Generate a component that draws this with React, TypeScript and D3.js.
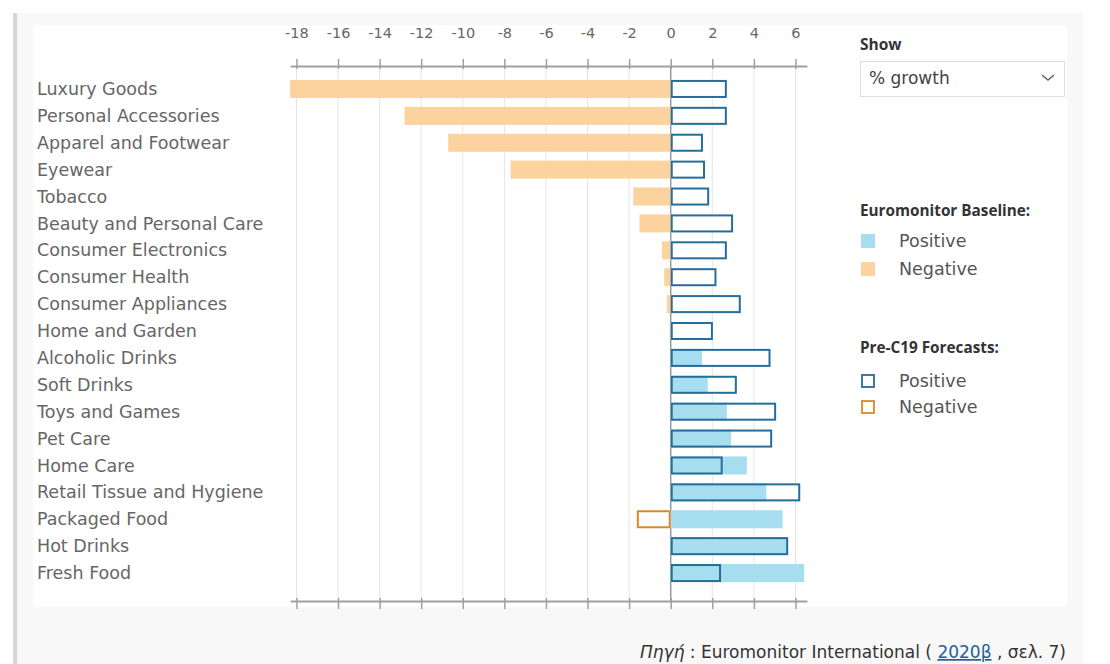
import { useEffect, useRef } from 'react';
import * as d3 from 'd3';

const categories = [
  'Luxury Goods',
  'Personal Accessories',
  'Apparel and Footwear',
  'Eyewear',
  'Tobacco',
  'Beauty and Personal Care',
  'Consumer Electronics',
  'Consumer Health',
  'Consumer Appliances',
  'Home and Garden',
  'Alcoholic Drinks',
  'Soft Drinks',
  'Toys and Games',
  'Pet Care',
  'Home Care',
  'Retail Tissue and Hygiene',
  'Packaged Food',
  'Hot Drinks',
  'Fresh Food',
];

// Euromonitor baseline (% growth)
const baseline = [-18.3, -12.8, -10.7, -7.7, -1.8, -1.5, -0.42, -0.31, -0.19, -0.05, 1.5, 1.78, 2.7, 2.9, 3.66, 4.6, 5.38, 5.6, 6.42];
// Pre-C19 forecasts (% growth)
const preC19 = [2.7, 2.7, 1.55, 1.65, 1.85, 3.0, 2.7, 2.2, 3.37, 2.03, 4.8, 3.18, 5.07, 4.88, 2.5, 6.23, -1.63, 5.65, 2.42];

const tickLabels = [-18, -16, -14, -12, -10, -8, -6, -4, -2, 0, 2, 4, 6];

const FONT = '"Open Sans", "DejaVu Sans", sans-serif';
const WIDE = '"DejaVu Sans", sans-serif';
const POS_FILL = '#a6ddef';
const NEG_FILL = '#fcd29e';
const POS_STROKE = '#266d9a';
const NEG_STROKE = '#d88a2c';

export default function App() {
  const svgRef = useRef<SVGSVGElement>(null);
  const width = 1110;
  const height = 664;

  useEffect(() => {
    if (!svgRef.current) return;
    const svg = d3.select(svgRef.current);
    svg.selectAll('*').remove();

    // page background panel + white card
    svg.append('rect').attr('x', 0).attr('y', 0).attr('width', width).attr('height', height).attr('fill', '#ffffff');
    svg.append('rect').attr('x', 17).attr('y', 13).attr('width', 1066).attr('height', height - 13).attr('fill', '#f8f8f8');
    svg.append('rect').attr('x', 13).attr('y', 13).attr('width', 4).attr('height', height - 13).attr('fill', '#d6d6d6');
    svg.append('rect').attr('x', 33).attr('y', 25).attr('width', 1034).attr('height', 582).attr('fill', '#ffffff');

    const x = d3.scaleLinear().domain([-18.3, 6.55]).range([290.2, 806.9]);
    const y = d3.scaleBand<string>()
      .domain(categories)
      .range([75.5, 586.5])
      .paddingInner(0.33)
      .paddingOuter(0.165);

    const axisTopY = 66;
    const axisBottomY = 601;

    // gridlines
    svg.append('g')
      .selectAll('line')
      .data(tickLabels)
      .enter()
      .append('line')
      .attr('x1', d => x(d))
      .attr('x2', d => x(d))
      .attr('y1', axisTopY)
      .attr('y2', axisBottomY)
      .attr('stroke', d => (d === 0 ? '#9a9a9a' : '#e4e4e4'))
      .attr('stroke-width', d => (d === 0 ? 1.5 : 1));

    // axes
    const topAxis = svg.append('g')
      .attr('transform', `translate(0, ${axisTopY})`)
      .call(d3.axisTop(x).tickValues(tickLabels).tickSize(8).tickSizeOuter(0).tickPadding(20).tickFormat(d => `${d}`));
    const bottomAxis = svg.append('g')
      .attr('transform', `translate(0, ${axisBottomY})`)
      .call(d3.axisBottom(x).tickValues(tickLabels).tickSize(8).tickSizeOuter(0).tickFormat(() => ''));

    [topAxis, bottomAxis].forEach(ax => {
      ax.select('.domain').attr('stroke', '#a0a0a0').attr('stroke-width', 2);
      ax.selectAll('.tick line').attr('stroke', '#a0a0a0').attr('stroke-width', 1.5);
      ax.selectAll('.tick text')
        .attr('fill', '#666')
        .attr('font-size', '14.5px')
        .style('font-family', WIDE);
    });
    topAxis.selectAll('.tick line').attr('y2', -7).attr('y1', 3);
    bottomAxis.selectAll('.tick line').attr('y1', -3).attr('y2', 8);

    const rows = categories.map((c, i) => ({ c, base: baseline[i], pre: preC19[i] }));
    const bh = y.bandwidth();

    // forecast background (white inside the outline)
    svg.append('g')
      .selectAll('rect')
      .data(rows)
      .enter()
      .append('rect')
      .attr('x', d => Math.min(x(0), x(d.pre)))
      .attr('y', d => y(d.c)!)
      .attr('width', d => Math.abs(x(d.pre) - x(0)))
      .attr('height', bh)
      .attr('fill', '#ffffff');

    // baseline bars
    svg.append('g')
      .selectAll('rect')
      .data(rows)
      .enter()
      .append('rect')
      .attr('x', d => Math.min(x(0), x(d.base)))
      .attr('y', d => y(d.c)!)
      .attr('width', d => Math.abs(x(d.base) - x(0)))
      .attr('height', bh)
      .attr('fill', d => (d.base >= 0 ? POS_FILL : NEG_FILL));

    // pre-C19 outlines
    svg.append('g')
      .selectAll('rect')
      .data(rows)
      .enter()
      .append('rect')
      .attr('x', d => Math.min(x(0), x(d.pre)) + 1)
      .attr('y', d => y(d.c)! + 1)
      .attr('width', d => Math.abs(x(d.pre) - x(0)) - 2)
      .attr('height', bh - 2)
      .attr('fill', 'none')
      .attr('stroke', d => (d.pre >= 0 ? POS_STROKE : NEG_STROKE))
      .attr('stroke-width', 2);

    // category labels
    svg.append('g')
      .selectAll('text')
      .data(categories)
      .enter()
      .append('text')
      .attr('x', 37)
      .attr('y', d => y(d)! + bh / 2)
      .attr('dy', '0.35em')
      .attr('font-size', '17.5px')
      .attr('fill', '#666')
      .style('font-family', WIDE)
      .text(d => d);

    // right-hand panel
    const panel = svg.append('g').style('font-family', FONT);
    panel.append('text').attr('x', 860).attr('y', 50).attr('font-size', '15.5px').attr('font-weight', '700').attr('fill', '#333').text('Show');
    panel.append('rect').attr('x', 860.5).attr('y', 61.5).attr('width', 204).attr('height', 35)
      .attr('fill', '#fff').attr('stroke', '#dddddd');
    panel.append('text').attr('x', 869).attr('y', 78).attr('dy', '0.35em').attr('font-size', '17px').attr('fill', '#444')
      .style('font-family', WIDE).text('% growth');
    panel.append('path').attr('d', 'M1042,75 L1048,80 L1054,75').attr('fill', 'none').attr('stroke', '#666').attr('stroke-width', 1.6);

    panel.append('text').attr('x', 860).attr('y', 216).attr('font-size', '15.3px').attr('font-weight', '700').attr('fill', '#333').text('Euromonitor Baseline:');
    const baseItems = [
      { label: 'Positive', color: POS_FILL },
      { label: 'Negative', color: NEG_FILL },
    ];
    baseItems.forEach((it, i) => {
      const cy = 241 + i * 28;
      panel.append('rect').attr('x', 861).attr('y', cy - 7).attr('width', 14).attr('height', 14).attr('fill', it.color);
      panel.append('text').attr('x', 899).attr('y', cy).attr('dy', '0.35em').attr('font-size', '17.5px').attr('fill', '#555')
        .style('font-family', WIDE).text(it.label);
    });

    panel.append('text').attr('x', 860).attr('y', 353).attr('font-size', '15.3px').attr('font-weight', '700').attr('fill', '#333').text('Pre-C19 Forecasts:');
    const preItems = [
      { label: 'Positive', color: POS_STROKE },
      { label: 'Negative', color: NEG_STROKE },
    ];
    preItems.forEach((it, i) => {
      const cy = 381 + i * 26;
      panel.append('rect').attr('x', 862).attr('y', cy - 6).attr('width', 12).attr('height', 12)
        .attr('fill', '#fff').attr('stroke', it.color).attr('stroke-width', 1.8);
      panel.append('text').attr('x', 899).attr('y', cy).attr('dy', '0.35em').attr('font-size', '17.5px').attr('fill', '#555')
        .style('font-family', WIDE).text(it.label);
    });

    // source caption
    const cap = svg.append('text')
      .attr('x', 1066)
      .attr('y', 658)
      .attr('text-anchor', 'end')
      .attr('font-size', '17px')
      .attr('fill', '#333')
      .style('font-family', WIDE);
    cap.append('tspan').attr('font-style', 'italic').text('Πηγή');
    cap.append('tspan').text(' : Euromonitor International ( ');
    cap.append('tspan').attr('fill', '#1f5f9e').attr('text-decoration', 'underline').text('2020β');
    cap.append('tspan').text(' , σελ. 7)');
  }, []);

  return (
    <div style={{ position: 'absolute', left: 0, top: 0 }}>
      <svg ref={svgRef} width={width} height={height} style={{ display: 'block' }} />
    </div>
  );
}
